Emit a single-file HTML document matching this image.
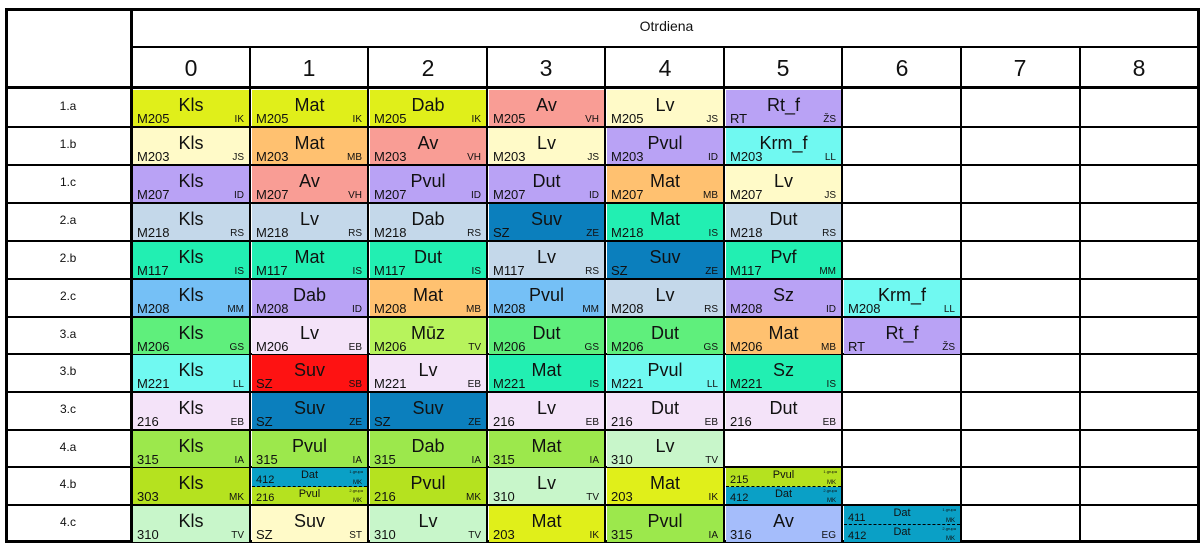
<!DOCTYPE html>
<html><head><meta charset="utf-8"><style>
body{margin:0;background:#fff;width:1203px;height:549px;position:relative;overflow:hidden;font-family:"Liberation Sans",Arial,sans-serif;color:#111}
.l{position:absolute;background:#000}
.c{position:absolute;height:36px;overflow:hidden}
.s{position:absolute;left:0;right:0;top:5px;text-align:center;font-size:18px}
.r{position:absolute;left:4px;bottom:0px;font-size:13px}
.t{position:absolute;right:5px;bottom:1px;font-size:10px}
.h{position:absolute;left:0;right:0;height:18px}
.h .s{top:1px;font-size:11px}
.h .r{font-size:11px;bottom:0}
.h .t{font-size:6px;bottom:0}
.h .g{position:absolute;right:4px;top:1px;font-size:4px}
.x0{left:133px;width:116px}.x1{left:252px;width:115px}.x2{left:370px;width:116px}.x3{left:489px;width:115px}.x4{left:607px;width:116px}.x5{left:726px;width:115px}.x6{left:844px;width:116px}
.y0{top:90px}.y1{top:128px}.y2{top:166px}.y3{top:204px}.y4{top:242px}.y5{top:280px}.y6{top:318px}.y7{top:355px}.y8{top:393px}.y9{top:431px}.y10{top:468px}.y11{top:506px}
.lab{position:absolute;left:5px;width:126px;text-align:center;font-size:12px}
.n{position:absolute;top:55px;width:118px;text-align:center;font-size:23px}
.yg{background:#e0ef1a}.ly{background:#fffac8}.or{background:#ffc170}.sa{background:#f99d95}.pu{background:#b9a2f5}.cy{background:#70f9f1}.gb{background:#c4d8ea}.tb{background:#0b7fbd}.gr{background:#22efb2}.bl{background:#75c0f6}.g2{background:#5fef7c}.pk{background:#f4e3f9}.rd{background:#fe1212}.mz{background:#b7f35c}.li{background:#9ce84c}.lg{background:#c8f6ca}.lm{background:#b5e21f}.db{background:#0aa0c6}.av{background:#a5bdfb}
</style></head><body>
<div style="position:absolute;left:5px;top:8px;width:1195px;height:535px;border:3px solid #000;box-sizing:border-box"></div>
<div class="l" style="left:130px;top:8px;width:3px;height:535px"></div>
<div class="l" style="left:131px;top:46px;width:1069px;height:2px"></div>
<div class="l" style="left:5px;top:86px;width:1195px;height:3px"></div>
<div class="l" style="left:249px;top:46px;width:2px;height:497px"></div>
<div class="l" style="left:367px;top:46px;width:2px;height:497px"></div>
<div class="l" style="left:486px;top:46px;width:2px;height:497px"></div>
<div class="l" style="left:604px;top:46px;width:2px;height:497px"></div>
<div class="l" style="left:723px;top:46px;width:2px;height:497px"></div>
<div class="l" style="left:841px;top:46px;width:2px;height:497px"></div>
<div class="l" style="left:960px;top:46px;width:2px;height:497px"></div>
<div class="l" style="left:1079px;top:46px;width:2px;height:497px"></div>
<div class="l" style="left:5px;top:126px;width:1195px;height:2px"></div>
<div class="l" style="left:5px;top:164px;width:1195px;height:2px"></div>
<div class="l" style="left:5px;top:202px;width:1195px;height:2px"></div>
<div class="l" style="left:5px;top:240px;width:1195px;height:2px"></div>
<div class="l" style="left:5px;top:278px;width:1195px;height:2px"></div>
<div class="l" style="left:5px;top:316px;width:1195px;height:2px"></div>
<div class="l" style="left:5px;top:353px;width:1195px;height:2px"></div>
<div class="l" style="left:5px;top:391px;width:1195px;height:2px"></div>
<div class="l" style="left:5px;top:429px;width:1195px;height:2px"></div>
<div class="l" style="left:5px;top:466px;width:1195px;height:2px"></div>
<div class="l" style="left:5px;top:504px;width:1195px;height:2px"></div>
<div style="position:absolute;left:133px;width:1067px;top:18px;text-align:center;font-size:14px">Otrdiena</div>
<div class="n" style="left:132px">0</div><div class="n" style="left:250px">1</div><div class="n" style="left:369px">2</div><div class="n" style="left:487px">3</div><div class="n" style="left:606px">4</div><div class="n" style="left:724px">5</div><div class="n" style="left:843px">6</div><div class="n" style="left:961px">7</div><div class="n" style="left:1080px">8</div>
<div class="lab" style="top:99px">1.a</div><div class="lab" style="top:137px">1.b</div><div class="lab" style="top:175px">1.c</div><div class="lab" style="top:213px">2.a</div><div class="lab" style="top:251px">2.b</div><div class="lab" style="top:289px">2.c</div><div class="lab" style="top:327px">3.a</div><div class="lab" style="top:364px">3.b</div><div class="lab" style="top:402px">3.c</div><div class="lab" style="top:440px">4.a</div><div class="lab" style="top:477px">4.b</div><div class="lab" style="top:515px">4.c</div>

<div class="c x0 y0 yg"><span class="s">Kls</span><span class="r">M205</span><span class="t">IK</span></div>
<div class="c x1 y0 yg"><span class="s">Mat</span><span class="r">M205</span><span class="t">IK</span></div>
<div class="c x2 y0 yg"><span class="s">Dab</span><span class="r">M205</span><span class="t">IK</span></div>
<div class="c x3 y0 sa"><span class="s">Av</span><span class="r">M205</span><span class="t">VH</span></div>
<div class="c x4 y0 ly"><span class="s">Lv</span><span class="r">M205</span><span class="t">JS</span></div>
<div class="c x5 y0 pu"><span class="s">Rt_f</span><span class="r">RT</span><span class="t">ŽS</span></div>

<div class="c x0 y1 ly"><span class="s">Kls</span><span class="r">M203</span><span class="t">JS</span></div>
<div class="c x1 y1 or"><span class="s">Mat</span><span class="r">M203</span><span class="t">MB</span></div>
<div class="c x2 y1 sa"><span class="s">Av</span><span class="r">M203</span><span class="t">VH</span></div>
<div class="c x3 y1 ly"><span class="s">Lv</span><span class="r">M203</span><span class="t">JS</span></div>
<div class="c x4 y1 pu"><span class="s">Pvul</span><span class="r">M203</span><span class="t">ID</span></div>
<div class="c x5 y1 cy"><span class="s">Krm_f</span><span class="r">M203</span><span class="t">LL</span></div>

<div class="c x0 y2 pu"><span class="s">Kls</span><span class="r">M207</span><span class="t">ID</span></div>
<div class="c x1 y2 sa"><span class="s">Av</span><span class="r">M207</span><span class="t">VH</span></div>
<div class="c x2 y2 pu"><span class="s">Pvul</span><span class="r">M207</span><span class="t">ID</span></div>
<div class="c x3 y2 pu"><span class="s">Dut</span><span class="r">M207</span><span class="t">ID</span></div>
<div class="c x4 y2 or"><span class="s">Mat</span><span class="r">M207</span><span class="t">MB</span></div>
<div class="c x5 y2 ly"><span class="s">Lv</span><span class="r">M207</span><span class="t">JS</span></div>

<div class="c x0 y3 gb"><span class="s">Kls</span><span class="r">M218</span><span class="t">RS</span></div>
<div class="c x1 y3 gb"><span class="s">Lv</span><span class="r">M218</span><span class="t">RS</span></div>
<div class="c x2 y3 gb"><span class="s">Dab</span><span class="r">M218</span><span class="t">RS</span></div>
<div class="c x3 y3 tb"><span class="s">Suv</span><span class="r">SZ</span><span class="t">ZE</span></div>
<div class="c x4 y3 gr"><span class="s">Mat</span><span class="r">M218</span><span class="t">IS</span></div>
<div class="c x5 y3 gb"><span class="s">Dut</span><span class="r">M218</span><span class="t">RS</span></div>

<div class="c x0 y4 gr"><span class="s">Kls</span><span class="r">M117</span><span class="t">IS</span></div>
<div class="c x1 y4 gr"><span class="s">Mat</span><span class="r">M117</span><span class="t">IS</span></div>
<div class="c x2 y4 gr"><span class="s">Dut</span><span class="r">M117</span><span class="t">IS</span></div>
<div class="c x3 y4 gb"><span class="s">Lv</span><span class="r">M117</span><span class="t">RS</span></div>
<div class="c x4 y4 tb"><span class="s">Suv</span><span class="r">SZ</span><span class="t">ZE</span></div>
<div class="c x5 y4 gr"><span class="s">Pvf</span><span class="r">M117</span><span class="t">MM</span></div>

<div class="c x0 y5 bl"><span class="s">Kls</span><span class="r">M208</span><span class="t">MM</span></div>
<div class="c x1 y5 pu"><span class="s">Dab</span><span class="r">M208</span><span class="t">ID</span></div>
<div class="c x2 y5 or"><span class="s">Mat</span><span class="r">M208</span><span class="t">MB</span></div>
<div class="c x3 y5 bl"><span class="s">Pvul</span><span class="r">M208</span><span class="t">MM</span></div>
<div class="c x4 y5 gb"><span class="s">Lv</span><span class="r">M208</span><span class="t">RS</span></div>
<div class="c x5 y5 pu"><span class="s">Sz</span><span class="r">M208</span><span class="t">ID</span></div>
<div class="c x6 y5 cy"><span class="s">Krm_f</span><span class="r">M208</span><span class="t">LL</span></div>

<div class="c x0 y6 g2"><span class="s">Kls</span><span class="r">M206</span><span class="t">GS</span></div>
<div class="c x1 y6 pk"><span class="s">Lv</span><span class="r">M206</span><span class="t">EB</span></div>
<div class="c x2 y6 mz"><span class="s">Mūz</span><span class="r">M206</span><span class="t">TV</span></div>
<div class="c x3 y6 g2"><span class="s">Dut</span><span class="r">M206</span><span class="t">GS</span></div>
<div class="c x4 y6 g2"><span class="s">Dut</span><span class="r">M206</span><span class="t">GS</span></div>
<div class="c x5 y6 or"><span class="s">Mat</span><span class="r">M206</span><span class="t">MB</span></div>
<div class="c x6 y6 pu"><span class="s">Rt_f</span><span class="r">RT</span><span class="t">ŽS</span></div>

<div class="c x0 y7 cy"><span class="s">Kls</span><span class="r">M221</span><span class="t">LL</span></div>
<div class="c x1 y7 rd"><span class="s">Suv</span><span class="r">SZ</span><span class="t">SB</span></div>
<div class="c x2 y7 pk"><span class="s">Lv</span><span class="r">M221</span><span class="t">EB</span></div>
<div class="c x3 y7 gr"><span class="s">Mat</span><span class="r">M221</span><span class="t">IS</span></div>
<div class="c x4 y7 cy"><span class="s">Pvul</span><span class="r">M221</span><span class="t">LL</span></div>
<div class="c x5 y7 gr"><span class="s">Sz</span><span class="r">M221</span><span class="t">IS</span></div>

<div class="c x0 y8 pk"><span class="s">Kls</span><span class="r">216</span><span class="t">EB</span></div>
<div class="c x1 y8 tb"><span class="s">Suv</span><span class="r">SZ</span><span class="t">ZE</span></div>
<div class="c x2 y8 tb"><span class="s">Suv</span><span class="r">SZ</span><span class="t">ZE</span></div>
<div class="c x3 y8 pk"><span class="s">Lv</span><span class="r">216</span><span class="t">EB</span></div>
<div class="c x4 y8 pk"><span class="s">Dut</span><span class="r">216</span><span class="t">EB</span></div>
<div class="c x5 y8 pk"><span class="s">Dut</span><span class="r">216</span><span class="t">EB</span></div>

<div class="c x0 y9 li"><span class="s">Kls</span><span class="r">315</span><span class="t">IA</span></div>
<div class="c x1 y9 li"><span class="s">Pvul</span><span class="r">315</span><span class="t">IA</span></div>
<div class="c x2 y9 li"><span class="s">Dab</span><span class="r">315</span><span class="t">IA</span></div>
<div class="c x3 y9 li"><span class="s">Mat</span><span class="r">315</span><span class="t">IA</span></div>
<div class="c x4 y9 lg"><span class="s">Lv</span><span class="r">310</span><span class="t">TV</span></div>

<div class="c x0 y10 lm"><span class="s">Kls</span><span class="r">303</span><span class="t">MK</span></div>
<div class="c x1 y10"><div class="h db" style="top:0;border-bottom:1px dashed #000"><span class="s">Dat</span><span class="r">412</span><span class="g">1.grupa</span><span class="t">MK</span></div><div class="h lm" style="top:19px;height:17px"><span class="s">Pvul</span><span class="r">216</span><span class="g">2.grupa</span><span class="t">MK</span></div></div>
<div class="c x2 y10 lm"><span class="s">Pvul</span><span class="r">216</span><span class="t">MK</span></div>
<div class="c x3 y10 lg"><span class="s">Lv</span><span class="r">310</span><span class="t">TV</span></div>
<div class="c x4 y10 yg"><span class="s">Mat</span><span class="r">203</span><span class="t">IK</span></div>
<div class="c x5 y10"><div class="h lm" style="top:0;border-bottom:1px dashed #000"><span class="s">Pvul</span><span class="r">215</span><span class="g">1.grupa</span><span class="t">MK</span></div><div class="h db" style="top:19px;height:17px"><span class="s">Dat</span><span class="r">412</span><span class="g">2.grupa</span><span class="t">MK</span></div></div>

<div class="c x0 y11 lg"><span class="s">Kls</span><span class="r">310</span><span class="t">TV</span></div>
<div class="c x1 y11 ly"><span class="s">Suv</span><span class="r">SZ</span><span class="t">ST</span></div>
<div class="c x2 y11 lg"><span class="s">Lv</span><span class="r">310</span><span class="t">TV</span></div>
<div class="c x3 y11 yg"><span class="s">Mat</span><span class="r">203</span><span class="t">IK</span></div>
<div class="c x4 y11 li"><span class="s">Pvul</span><span class="r">315</span><span class="t">IA</span></div>
<div class="c x5 y11 av"><span class="s">Av</span><span class="r">316</span><span class="t">EG</span></div>
<div class="c x6 y11 db"><div class="h" style="top:0;border-bottom:1px dashed #000"><span class="s">Dat</span><span class="r">411</span><span class="g">1.grupa</span><span class="t">MK</span></div><div class="h" style="top:19px;height:17px"><span class="s">Dat</span><span class="r">412</span><span class="g">2.grupa</span><span class="t">MK</span></div></div>
</body></html>
